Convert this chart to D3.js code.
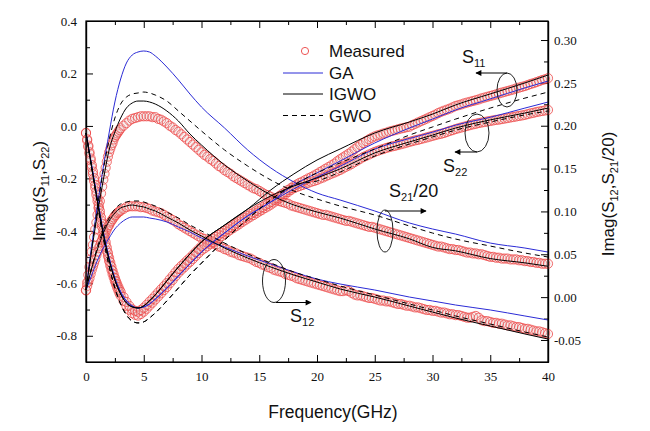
<!DOCTYPE html>
<html><head><meta charset="utf-8">
<script src="https://cdn.jsdelivr.net/npm/d3@7"></script>
<style>body{margin:0;background:#fff}</style>
</head><body><svg id="c" width="650" height="431"></svg>
<script>
// ---------- DATA ----------
// model frequency nodes (GHz)
const fModel = [0,0.5,1,1.5,2,2.5,3,3.5,4,4.5,5,5.5,6,7,8,9,10,12,14,16,18,20,22,25,28,30,32,35,38,40];
// measured frequency grid: 0..3 step 0.1, then 3.25..40 step 0.25
const fMeas = d3.range(0,31).map(i=>i/10).concat(d3.range(1,149).map(i=>3+i*0.25));

// Left axis: Imag(S11), Imag(S22)
const measS11 = [-0.027,
 -0.051,-0.075,-0.100,-0.124,-0.149,-0.174,-0.199,-0.225,-0.250,-0.275,
 -0.300,-0.324,-0.349,-0.373,-0.397,-0.420,-0.443,-0.464,-0.484,-0.503,
 -0.520,-0.536,-0.552,-0.566,-0.580,-0.592,-0.603,-0.614,-0.624,-0.633,
 -0.652,-0.671,-0.686,-0.699, -0.705,-0.708,-0.702,-0.693, -0.682,-0.670,-0.659,-0.647,
 -0.635,-0.623,-0.611,-0.599, -0.585,-0.572,-0.558,-0.545, -0.534,-0.524,-0.513,-0.503,
 -0.492,-0.481,-0.470,-0.459, -0.452,-0.445,-0.437,-0.430, -0.423,-0.416,-0.408,-0.401,
 -0.394,-0.386,-0.379,-0.372, -0.365,-0.357,-0.350,-0.343, -0.336,-0.330,-0.323,-0.316,
 -0.310,-0.303,-0.297,-0.290, -0.282,-0.275,-0.267,-0.259, -0.252,-0.244,-0.237,-0.229,
 -0.223,-0.217,-0.212,-0.206, -0.200,-0.195,-0.189,-0.183, -0.176,-0.170,-0.163,-0.157,
 -0.150,-0.144,-0.135,-0.127, -0.120,-0.113,-0.106,-0.098, -0.089,-0.081,-0.073,-0.065,
 -0.058,-0.051,-0.045,-0.040, -0.036,-0.033,-0.029,-0.026, -0.022,-0.019,-0.016,-0.013,
 -0.010,-0.008,-0.005,-0.003, 0.003,0.008,0.013,0.018, 0.023,0.028,0.033,0.038,
 0.043,0.049,0.054,0.058, 0.062,0.066,0.071,0.076, 0.079,0.082,0.086,0.089,
 0.092,0.095,0.098,0.101, 0.105,0.108,0.111,0.114, 0.117,0.120,0.124,0.127,
 0.130,0.133,0.136,0.139, 0.143,0.146,0.149,0.152, 0.156,0.160,0.163,0.167,
 0.171,0.175,0.178,0.182];
const measS22 = [-0.027,
 -0.055,-0.080,-0.106,-0.131,-0.158,-0.184,-0.210,-0.236,-0.262,-0.287,
 -0.312,-0.336,-0.361,-0.385,-0.409,-0.432,-0.455,-0.476,-0.496,-0.515,
 -0.532,-0.548,-0.564,-0.578,-0.592,-0.604,-0.616,-0.627,-0.638,-0.647,
 -0.667,-0.686,-0.701,-0.714, -0.720,-0.723,-0.717,-0.708, -0.697,-0.685,-0.674,-0.662,
 -0.650,-0.638,-0.626,-0.614, -0.600,-0.587,-0.573,-0.560, -0.549,-0.539,-0.528,-0.518,
 -0.507,-0.496,-0.485,-0.474, -0.467,-0.459,-0.451,-0.443, -0.436,-0.428,-0.420,-0.411,
 -0.404,-0.396,-0.389,-0.382, -0.375,-0.367,-0.360,-0.353, -0.346,-0.340,-0.333,-0.326,
 -0.320,-0.313,-0.307,-0.300, -0.292,-0.284,-0.276,-0.268, -0.260,-0.252,-0.244,-0.237,
 -0.233,-0.229,-0.225,-0.221, -0.217,-0.213,-0.210,-0.206, -0.201,-0.197,-0.192,-0.187,
 -0.182,-0.178,-0.173,-0.168, -0.162,-0.156,-0.151,-0.145, -0.138,-0.132,-0.125,-0.119,
 -0.114,-0.109,-0.104,-0.099, -0.095,-0.091,-0.088,-0.084, -0.081,-0.078,-0.076,-0.073,
 -0.070,-0.067,-0.064,-0.061, -0.058,-0.055,-0.053,-0.050, -0.047,-0.044,-0.041,-0.038,
 -0.035,-0.032,-0.030,-0.027, -0.023,-0.019,-0.016,-0.012, -0.009,-0.006,-0.003,0.000,
 0.003,0.006,0.008,0.011, 0.013,0.015,0.017,0.019, 0.021,0.023,0.024,0.026,
 0.028,0.030,0.032,0.034, 0.036,0.038,0.040,0.042, 0.045,0.048,0.050,0.053,
 0.055,0.057,0.059,0.061];
// Right axis: Imag(S21)/20, Imag(S12)
const measS21 = [0.008,
 0.017,0.026,0.035,0.044,0.053,0.061,0.070,0.079,0.087,0.096,
 0.104,0.112,0.121,0.129,0.137,0.144,0.151,0.158,0.164,0.169,
 0.173,0.177,0.180,0.184,0.187,0.189,0.191,0.193,0.195,0.197,
 0.200,0.203,0.206,0.208, 0.209,0.210,0.211,0.211, 0.211,0.211,0.210,0.210,
 0.208,0.207,0.205,0.203, 0.200,0.198,0.195,0.193, 0.190,0.187,0.184,0.181,
 0.178,0.175,0.172,0.169, 0.166,0.164,0.161,0.159, 0.156,0.153,0.151,0.148,
 0.146,0.144,0.141,0.139, 0.137,0.135,0.133,0.131, 0.129,0.127,0.126,0.124,
 0.122,0.120,0.119,0.117, 0.115,0.114,0.112,0.111, 0.110,0.109,0.107,0.106,
 0.105,0.104,0.103,0.102, 0.101,0.100,0.099,0.098, 0.097,0.096,0.096,0.095,
 0.094,0.093,0.092,0.091, 0.090,0.089,0.089,0.088, 0.087,0.086,0.085,0.084,
 0.083,0.082,0.082,0.081, 0.080,0.079,0.078,0.077, 0.076,0.075,0.074,0.073,
 0.072,0.071,0.070,0.069, 0.068,0.067,0.066,0.065, 0.064,0.063,0.062,0.061,
 0.060,0.059,0.059,0.058, 0.057,0.056,0.056,0.055, 0.055,0.054,0.053,0.052,
 0.052,0.051,0.051,0.050, 0.050,0.049,0.048,0.047, 0.047,0.046,0.046,0.045,
 0.045,0.045,0.044,0.044, 0.044,0.043,0.043,0.042, 0.042,0.041,0.041,0.040,
 0.040,0.039,0.039,0.039];
const measS12 = [0.008,
 0.013,0.018,0.022,0.027,0.032,0.036,0.040,0.044,0.049,0.053,
 0.057,0.060,0.064,0.067,0.070,0.073,0.076,0.079,0.082,0.084,
 0.087,0.089,0.091,0.093,0.095,0.096,0.098,0.099,0.100,0.101,
 0.103,0.105,0.106,0.106, 0.106,0.106,0.105,0.105, 0.104,0.103,0.101,0.100,
 0.099,0.098,0.096,0.094, 0.092,0.090,0.088,0.085, 0.083,0.081,0.079,0.077,
 0.075,0.073,0.071,0.069, 0.068,0.066,0.064,0.063, 0.061,0.059,0.058,0.056,
 0.055,0.053,0.052,0.051, 0.049,0.048,0.047,0.046, 0.045,0.043,0.041,0.040,
 0.038,0.037,0.035,0.034, 0.032,0.031,0.030,0.029, 0.027,0.026,0.025,0.024,
 0.022,0.021,0.020,0.019, 0.018,0.017,0.016,0.015, 0.014,0.013,0.012,0.011,
 0.010,0.009,0.008,0.007, 0.007,0.008,0.007,0.005, 0.003,0.002,0.002,0.001,
 0.000,-0.001,-0.001,-0.002, -0.003,-0.004,-0.004,-0.005, -0.005,-0.006,-0.007,-0.008,
 -0.008,-0.009,-0.010,-0.010, -0.011,-0.012,-0.012,-0.013, -0.014,-0.015,-0.015,-0.016,
 -0.016,-0.017,-0.018,-0.018, -0.019,-0.020,-0.020,-0.021, -0.021,-0.022,-0.023,-0.024,
 -0.024,-0.023,-0.022,-0.024, -0.027,-0.028,-0.028,-0.029, -0.030,-0.030,-0.031,-0.031,
 -0.032,-0.033,-0.033,-0.034, -0.035,-0.035,-0.036,-0.037, -0.037,-0.038,-0.039,-0.040,
 -0.040,-0.041,-0.042,-0.043];

// Model fits (left axis)
const gaS11   = [-0.027,-0.153,-0.282,-0.404,-0.503,-0.580,-0.633,-0.667,-0.686,-0.694,-0.690,-0.679,-0.660,-0.618,-0.572,-0.526,-0.481,-0.408,-0.343,-0.290,-0.225,-0.179,-0.134,-0.065,-0.008,0.026,0.061,0.103,0.145,0.171];
const gaS22   = [-0.027,-0.153,-0.282,-0.404,-0.503,-0.580,-0.633,-0.667,-0.686,-0.694,-0.690,-0.679,-0.660,-0.618,-0.572,-0.526,-0.481,-0.408,-0.343,-0.290,-0.240,-0.195,-0.154,-0.088,-0.048,-0.024,0.003,0.033,0.068,0.091];
const igwoS11 = [-0.027,-0.160,-0.290,-0.412,-0.511,-0.587,-0.641,-0.675,-0.690,-0.694,-0.686,-0.667,-0.644,-0.591,-0.538,-0.488,-0.442,-0.378,-0.317,-0.244,-0.183,-0.130,-0.088,-0.027,0.015,0.045,0.080,0.122,0.164,0.194];
const igwoS22 = [-0.027,-0.160,-0.290,-0.412,-0.511,-0.587,-0.641,-0.675,-0.690,-0.694,-0.686,-0.667,-0.644,-0.591,-0.538,-0.488,-0.442,-0.378,-0.317,-0.267,-0.229,-0.198,-0.164,-0.103,-0.061,-0.035,-0.008,0.023,0.049,0.068];
const gwoS11  = [-0.027,-0.160,-0.298,-0.427,-0.534,-0.618,-0.679,-0.721,-0.744,-0.751,-0.747,-0.732,-0.713,-0.667,-0.618,-0.568,-0.523,-0.435,-0.355,-0.282,-0.225,-0.179,-0.141,-0.088,-0.035,-0.004,0.026,0.068,0.106,0.129];
const gwoS22  = [-0.027,-0.160,-0.298,-0.427,-0.534,-0.618,-0.679,-0.721,-0.744,-0.751,-0.747,-0.732,-0.713,-0.667,-0.618,-0.568,-0.523,-0.435,-0.355,-0.282,-0.225,-0.210,-0.176,-0.115,-0.069,-0.042,-0.016,0.015,0.042,0.057];
// Model fits (right axis)
const gaS21   = [0.0083,0.0608,0.1075,0.1518,0.1915,0.2277,0.2545,0.2732,0.2825,0.2860,0.2872,0.2860,0.2814,0.2685,0.2534,0.2370,0.2218,0.1973,0.1717,0.1507,0.1343,0.1215,0.1133,0.1005,0.0865,0.0795,0.0736,0.0631,0.0573,0.0526];
const igwoS21 = [0.0083,0.0550,0.0982,0.1367,0.1717,0.1927,0.2090,0.2207,0.2265,0.2288,0.2288,0.2277,0.2253,0.2172,0.2055,0.1903,0.1775,0.1542,0.1355,0.1192,0.1075,0.0993,0.0923,0.0795,0.0680,0.0580,0.0540,0.0450,0.0400,0.0360];
const gwoS21  = [0.0083,0.0573,0.1052,0.1483,0.1833,0.2090,0.2253,0.2335,0.2370,0.2382,0.2393,0.2382,0.2358,0.2288,0.2172,0.2055,0.1938,0.1717,0.1530,0.1367,0.1238,0.1145,0.1063,0.0958,0.0830,0.0748,0.0678,0.0596,0.0515,0.0468];
const gaS12   = [0.0083,0.0258,0.0433,0.0573,0.0690,0.0795,0.0865,0.0912,0.0935,0.0935,0.0935,0.0923,0.0912,0.0877,0.0818,0.0760,0.0690,0.0585,0.0480,0.0386,0.0293,0.0211,0.0153,0.0083,0.0001,-0.0045,-0.0092,-0.0150,-0.0220,-0.0267];
const igwoS12 = [0.0083,0.0340,0.0561,0.0748,0.0888,0.0982,0.1040,0.1063,0.1075,0.1063,0.1052,0.1028,0.1005,0.0935,0.0865,0.0783,0.0713,0.0573,0.0456,0.0351,0.0258,0.0176,0.0095,0.0001,-0.0104,-0.0174,-0.0244,-0.0337,-0.0430,-0.0489];
const gwoS12  = [0.0083,0.0351,0.0585,0.0783,0.0923,0.1028,0.1087,0.1110,0.1122,0.1122,0.1110,0.1087,0.1063,0.0993,0.0923,0.0842,0.0772,0.0631,0.0503,0.0398,0.0293,0.0211,0.0130,0.0025,-0.0080,-0.0150,-0.0220,-0.0314,-0.0407,-0.0465];

// ticks
const xMajor = [0,5,10,15,20,25,30,35,40];
const xMinor = [2.5,7.5,12.5,17.5,22.5,27.5,32.5,37.5];
const yLMajor = [-0.8,-0.6,-0.4,-0.2,0.0,0.2,0.4];
const yLMinor = [-0.7,-0.5,-0.3,-0.1,0.1,0.3];
const yRMajor = [-0.05,0.00,0.05,0.10,0.15,0.20,0.25,0.30];
const yRMinor = [-0.025,0.025,0.075,0.125,0.175,0.225,0.275];
const legendItems = ["Measured","GA","IGWO","GWO"];

// ---------- CHART ----------
const svg = d3.select("#c");
const L=86, R=548, T=21, B=362;
const x  = d3.scaleLinear().domain([0,40]).range([L,R]);
const yL = d3.scaleLinear().domain([-0.9,0.4]).range([B,T]);
const yR = d3.scaleLinear().domain([-0.0757,0.3222]).range([B,T]);

const serif = "'Liberation Serif','Times New Roman',serif";
const sans = "'Liberation Sans',Arial,sans-serif";
const hy = s => s.replace("\u2212","-");

function styleAxis(g){
  g.select(".domain").attr("stroke","#000").attr("stroke-width",1.2);
  g.selectAll(".tick line").attr("stroke","#000");
  g.selectAll("text").attr("font-family",serif).attr("font-size",13).attr("fill","#111");
}
// bottom
svg.append("g").attr("transform",`translate(0,${B})`)
  .call(d3.axisBottom(x).tickValues(xMajor).tickSize(-7).tickSizeOuter(0).tickPadding(10).tickFormat(d3.format("d")))
  .call(styleAxis);
svg.append("g").attr("transform",`translate(0,${B})`)
  .call(d3.axisBottom(x).tickValues(xMinor).tickSize(-4).tickSizeOuter(0).tickFormat(""))
  .call(styleAxis);
// top
svg.append("g").attr("transform",`translate(0,${T})`)
  .call(d3.axisTop(x).tickValues(xMajor).tickSize(-7).tickSizeOuter(0).tickFormat(""))
  .call(styleAxis);
svg.append("g").attr("transform",`translate(0,${T})`)
  .call(d3.axisTop(x).tickValues(xMinor).tickSize(-4).tickSizeOuter(0).tickFormat(""))
  .call(styleAxis);
// left
svg.append("g").attr("transform",`translate(${L},0)`)
  .call(d3.axisLeft(yL).tickValues(yLMajor).tickSize(-7).tickSizeOuter(0).tickPadding(9).tickFormat(d=>hy(d3.format(".1f")(d))))
  .call(styleAxis);
svg.append("g").attr("transform",`translate(${L},0)`)
  .call(d3.axisLeft(yL).tickValues(yLMinor).tickSize(-4).tickSizeOuter(0).tickFormat(""))
  .call(styleAxis);
// right
svg.append("g").attr("transform",`translate(${R},0)`)
  .call(d3.axisRight(yR).tickValues(yRMajor).tickSize(-7).tickSizeOuter(0).tickPadding(6).tickFormat(d=>hy(d3.format(".2f")(d))))
  .call(styleAxis);
svg.append("g").attr("transform",`translate(${R},0)`)
  .call(d3.axisRight(yR).tickValues(yRMinor).tickSize(-4).tickSizeOuter(0).tickFormat(""))
  .call(styleAxis);

// measured circles
const gm = svg.append("g");
function drawMeas(vals, y){
  const n = Math.min(vals.length, fMeas.length);
  gm.append("g").selectAll("circle").data(d3.range(n)).enter().append("circle")
    .attr("cx", i=>x(fMeas[i])).attr("cy", i=>y(vals[i])).attr("r",4.6)
    .attr("fill","rgba(225,205,205,0.18)").attr("stroke","#ee4444").attr("stroke-width",0.9).attr("stroke-opacity",0.85);
}
drawMeas(measS12, yR);
drawMeas(measS21, yR);
drawMeas(measS22, yL);
drawMeas(measS11, yL);

// model lines
const gl = svg.append("g").attr("fill","none");
function drawLine(vals, y, color, dash){
  const line = d3.line().x((d,i)=>x(fModel[i])).y(d=>y(d)).curve(d3.curveMonotoneX);
  gl.append("path").datum(vals).attr("d",line).attr("stroke",color).attr("stroke-width",1)
    .attr("stroke-dasharray",dash||null);
}
const BLUE="#2b2bd6";
[[gaS11,yL],[gaS22,yL],[gaS21,yR],[gaS12,yR]].forEach(([v,y])=>drawLine(v,y,BLUE));
[[igwoS11,yL],[igwoS22,yL],[igwoS21,yR],[igwoS12,yR]].forEach(([v,y])=>drawLine(v,y,"#000"));
[[gwoS11,yL],[gwoS22,yL],[gwoS21,yR],[gwoS12,yR]].forEach(([v,y])=>drawLine(v,y,"#000","5,4"));

// frame on top
svg.append("rect").attr("x",L).attr("y",T).attr("width",R-L).attr("height",B-T)
  .attr("fill","none").attr("stroke","#000").attr("stroke-width",1.2);

// legend
const lg = svg.append("g").attr("font-family",sans).attr("font-size",17).attr("fill","#111");
const lgY = [51,73,94,115.5];
lg.append("circle").attr("cx",305).attr("cy",lgY[0]).attr("r",3.6).attr("fill","none").attr("stroke","#ee5555");
lg.append("line").attr("x1",283).attr("x2",323).attr("y1",lgY[1]).attr("y2",lgY[1]).attr("stroke",BLUE);
lg.append("line").attr("x1",283).attr("x2",323).attr("y1",lgY[2]).attr("y2",lgY[2]).attr("stroke","#000");
lg.append("line").attr("x1",283).attr("x2",323).attr("y1",lgY[3]).attr("y2",lgY[3]).attr("stroke","#000").attr("stroke-dasharray","5,4");
legendItems.forEach((t,i)=>lg.append("text").attr("x",329).attr("y",lgY[i]).attr("dy","0.36em").text(t));

// axis titles
function subLabel(g, parts){
  parts.forEach(p=>{
    const ts = g.append("tspan").text(p.t);
    if(p.sub){ ts.attr("font-size",11).attr("dy",p.dy); }
    else if(p.dy){ ts.attr("dy",p.dy); }
  });
}
const t1 = svg.append("text").attr("font-family",sans).attr("font-size",17).attr("fill","#111")
  .attr("text-anchor","middle").attr("transform","translate(45,191) rotate(-90)");
subLabel(t1,[{t:"Imag(S"},{t:"11",sub:1,dy:4},{t:",S",dy:-4},{t:"22",sub:1,dy:4},{t:")",dy:-4}]);
const t2 = svg.append("text").attr("font-family",sans).attr("font-size",17).attr("fill","#111")
  .attr("text-anchor","middle").attr("transform","translate(614,194) rotate(-90)");
subLabel(t2,[{t:"Imag(S"},{t:"12",sub:1,dy:4},{t:",S",dy:-4},{t:"21",sub:1,dy:4},{t:"/20)",dy:-4}]);
svg.append("text").attr("font-family",sans).attr("font-size",17.5).attr("fill","#111")
  .attr("text-anchor","middle").attr("x",333).attr("y",418).text("Frequency(GHz)");

// annotations
const defs = svg.append("defs");
defs.append("marker").attr("id","ah").attr("viewBox","0 0 10 10").attr("refX",9).attr("refY",5)
  .attr("markerWidth",7).attr("markerHeight",6).attr("markerUnits","userSpaceOnUse").attr("orient","auto")
  .append("path").attr("d","M0,0L10,5L0,10Z").attr("fill","#000");
const an = svg.append("g");
function ell(cx,cy,rx,ry){ an.append("ellipse").attr("cx",cx).attr("cy",cy).attr("rx",rx).attr("ry",ry).attr("fill","none").attr("stroke","#222").attr("stroke-width",1); }
function arrow(x1,y1,x2,y2){ an.append("line").attr("x1",x1).attr("y1",y1).attr("x2",x2).attr("y2",y2).attr("stroke","#000").attr("stroke-width",1).attr("marker-end","url(#ah)"); }
function slabel(xx,yy,sub,tail){
  const t = an.append("text").attr("x",xx).attr("y",yy).attr("font-family",sans).attr("font-size",18).attr("fill","#111");
  t.append("tspan").text("S");
  t.append("tspan").attr("font-size",11).attr("dy",4).text(sub);
  if(tail) t.append("tspan").attr("dy",-4).text(tail);
}
ell(507,90,10,17); arrow(507,73,476,73); slabel(462,63,"11");
ell(477,133,12,19); arrow(477,152,455,152); slabel(443,172,"22");
ell(385,231,8,21); arrow(385,211,426,211); slabel(389,197,"21","/20");
ell(274,281,11.5,21.5); arrow(276,302.5,311,302.5); slabel(290,322,"12");
</script></body></html>
